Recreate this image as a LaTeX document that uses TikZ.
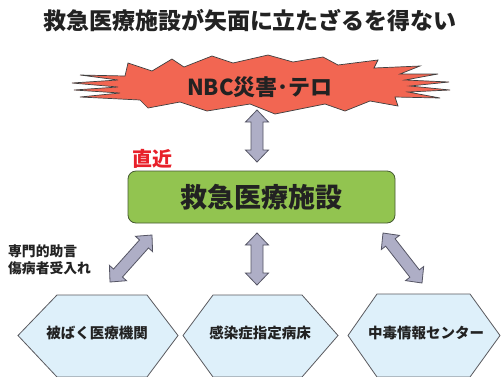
\documentclass[tikz,border=0pt]{standalone}
\usepackage{fontspec}
\setmainfont{Noto Sans CJK JP}
\usetikzlibrary{calc}
\definecolor{burstred}{RGB}{242,102,82}
\definecolor{arrowfill}{RGB}{174,174,198}
\definecolor{arrowline}{RGB}{85,85,100}
\definecolor{boxgreen}{RGB}{146,196,80}
\definecolor{boxline}{RGB}{70,90,50}
\definecolor{hexfill}{RGB}{222,240,250}
\definecolor{hexline}{RGB}{90,90,95}
\definecolor{txt}{RGB}{34,34,34}
\definecolor{nearred}{RGB}{232,32,42}
\newcommand{\dblarrow}[2]{%
  \draw[dblarr] (#1)
   -- ($($(#1)!12pt!(#2)$)!11.5pt!90:(#2)$)
   -- ($($(#1)!12pt!(#2)$)!6pt!90:(#2)$)
   -- ($($(#2)!12pt!(#1)$)!6pt!-90:(#1)$)
   -- ($($(#2)!12pt!(#1)$)!11.5pt!-90:(#1)$)
   -- (#2)
   -- ($($(#2)!12pt!(#1)$)!11.5pt!90:(#1)$)
   -- ($($(#2)!12pt!(#1)$)!6pt!90:(#1)$)
   -- ($($(#1)!12pt!(#2)$)!6pt!-90:(#2)$)
   -- ($($(#1)!12pt!(#2)$)!11.5pt!-90:(#2)$)
   -- cycle;}
\begin{document}
\begin{tikzpicture}[x=1pt,y=-1pt,
  dblarr/.style={fill=arrowfill,draw=arrowline,line width=0.8pt,line join=miter},
  hexbox/.style={fill=hexfill,draw=hexline,line width=0.8pt},
  hextext/.style={font=\bfseries\fontsize{14.5}{16}\selectfont,text=txt},
  sidetext/.style={font=\bfseries\fontsize{13.8}{15}\selectfont,text=txt,anchor=west,inner sep=0pt}]
\clip (0,0) rectangle (501,376);
\useasboundingbox (0,0) rectangle (501,376);
\fill[white] (0,0) rectangle (501,376);

\node[font=\bfseries\fontsize{23}{25}\selectfont,text=txt] (title) at (250,21) {救急医療施設が矢面に立たざるを得ない};

% starburst
\draw[fill=burstred,draw=black!75,line width=0.7pt,line join=miter]
 (80,97) -- (120,93) -- (74,90) -- (118,87) -- (72,83) -- (118,80) -- (80,75) -- (125,76)
 -- (128,63) -- (152,71) -- (172,59) -- (184,67) -- (212,56) -- (233,63) -- (268,55)
 -- (293,62) -- (323,57) -- (338,65) -- (378,60) -- (374,68) -- (420,66) -- (400,74)
 -- (438,74) -- (405,80) -- (449,82) -- (410,86) -- (450,90) -- (408,92) -- (440,98)
 -- (395,97) -- (398,106) -- (370,101) -- (345,111) -- (325,104) -- (275,114) -- (250,104)
 -- (207,111) -- (180,102) -- (148,108) -- (140,100) -- cycle;
\node[font=\bfseries\fontsize{22}{24}\selectfont,text=txt] (nbc) at (260,87) {NBC災害･テロ};

% main box
\node[fill=boxgreen,draw=boxline,line width=0.8pt,rounded corners=8pt,
  minimum width=267pt,minimum height=52pt,inner sep=0pt,
  font=\bfseries\fontsize{27}{29}\selectfont,text=txt] (hosp) at (261.5,197) {救急医療施設};
\node[font=\bfseries\fontsize{20}{22}\selectfont,text=nearred,inner sep=0pt] (near) at (152,159) {直近};

\node[sidetext] (adv) at (8,251) {専門的助言};
\node[sidetext] (acc) at (8,268) {傷病者受入れ};

% hexagons
\draw[hexbox] (18,335.5) -- (57,295) -- (147,295) -- (178,335.5) -- (147,377) -- (57,377) -- cycle;
\draw[hexbox] (183,335.5) -- (213,295) -- (302,295) -- (338,335.5) -- (302,377) -- (213,377) -- cycle;
\draw[hexbox] (348,335.5) -- (377,294) -- (470,294) -- (500,335.5) -- (470,377) -- (377,377) -- cycle;
\node[hextext] (h1) at (97,333) {被ばく医療機関};
\node[hextext] (h2) at (260,333) {感染症指定病床};
\node[hextext] (h3) at (426,333) {中毒情報センター};

% arrows
\coordinate (a1) at (257,110); \coordinate (b1) at (257,162);
\coordinate (a2) at (152,235); \coordinate (b2) at (110,282);
\coordinate (a3) at (257,233); \coordinate (b3) at (257,285);
\coordinate (a4) at (383,233); \coordinate (b4) at (422,283);
\dblarrow{a1}{b1}
\dblarrow{a2}{b2}
\dblarrow{a3}{b3}
\dblarrow{a4}{b4}
\end{tikzpicture}
\end{document}
